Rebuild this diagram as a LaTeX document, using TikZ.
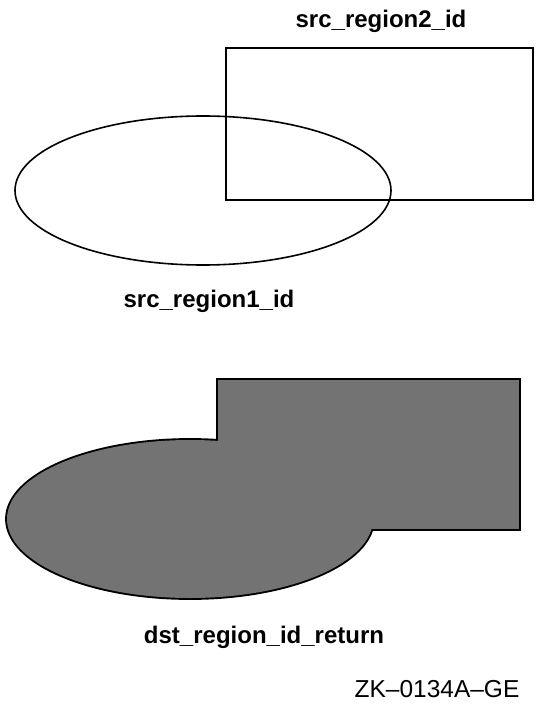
\documentclass[tikz,border=0pt]{standalone}
\usepackage{fontspec}
\setmainfont{Liberation Sans}
\begin{document}
\begin{tikzpicture}[x=1pt,y=-1pt,
  outline/.style={draw=black,line width=1.6pt},
  lbl/.style={font=\fontsize{24}{28}\selectfont\bfseries,inner sep=0pt,anchor=base},
  tag/.style={font=\fontsize{24.5}{29}\selectfont,inner sep=0pt,anchor=base}]
\useasboundingbox (0,0) rectangle (538,706);
% top: source regions
\draw[outline] (226,48) rectangle (533,200);
\draw[outline] (203,190.5) ellipse [x radius=188, y radius=74.5];
\node[lbl] (r2) at (381,28) {src\_region2\_id};
\node[lbl] (r1) at (209,307) {src\_region1\_id};
% bottom: union
\begin{scope}
\draw[draw=black,line width=3.8pt] (218,380) rectangle (519,529);
\draw[draw=black,line width=3.8pt] (190,519) ellipse [x radius=183, y radius=79];
\fill[black!55] (218,380) rectangle (519,529);
\fill[black!55] (190,519) ellipse [x radius=183, y radius=79];
\end{scope}
\node[lbl] (dst) at (264,643) {dst\_region\_id\_return};
\node[tag] (zk) at (437,697) {ZK\textendash 0134A\textendash GE};
\end{tikzpicture}
\end{document}
